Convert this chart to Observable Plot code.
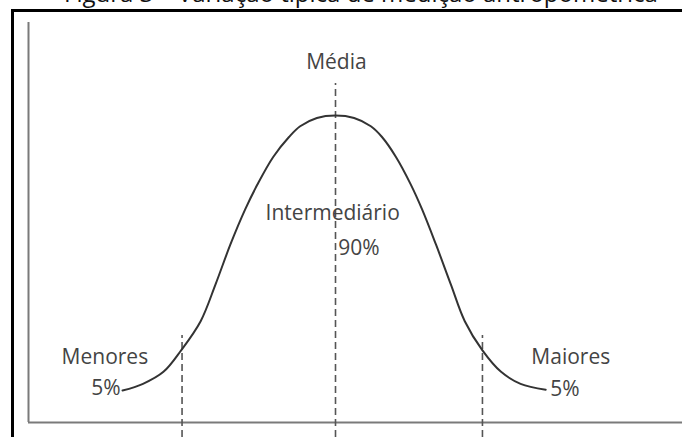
<!DOCTYPE html>
<html>
<head>
<meta charset="utf-8">
<script src="https://cdn.jsdelivr.net/npm/d3@7"></script>
<script src="https://cdn.jsdelivr.net/npm/@observablehq/plot@0.6"></script>
<style>
  html, body { margin: 0; padding: 0; background: #fff; }
  #wrap { position: relative; width: 682px; height: 437px; overflow: hidden; background: #fff; }
  #title { position: absolute; left: 0; top: -21px; width: 682px; text-align: center; padding-left: 40px; box-sizing: border-box;
           font-family: "Open Sans", sans-serif; font-size: 24px; color: #111; white-space: nowrap; line-height: 1.2; }
  #frame { position: absolute; left: 11px; top: 9px; width: 800px; height: 600px; border-left: 3px solid #000; border-top: 3px solid #000; box-sizing: border-box; pointer-events: none; }
  #chart { position: absolute; left: 0; top: 0; }
</style>
</head>
<body>
<div id="wrap">
  <div id="chart"></div>
  <div id="title">Figura 3 – Variação típica de medição antropométrica</div>
  <div id="frame"></div>
</div>
<script>
// Curve: x in standard-deviation units, y as relative frequency (peak = 100)
const curveX = [-2.29, -2.07, -1.85, -1.66, -1.45, -1.29, -1.13, -0.97, -0.84, -0.67, -0.50, -0.38, -0.20, 0,
                0.20, 0.38, 0.50, 0.65, 0.81, 0.93, 1.08, 1.24, 1.39, 1.58, 1.78, 1.99, 2.26];
const curveY = [10.4, 12.6, 16.5, 23.5, 33.0, 45.0, 58.0, 69.5, 77.5, 86.5, 93.0, 96.5, 99.2, 100,
                99.2, 96.5, 93.0, 86.5, 77.5, 69.5, 58.0, 45.0, 33.0, 23.5, 16.5, 12.6, 10.7];

// Dashed dividers: lower 5%, mean, upper 5%
const dividerX = [-1.65, 0, 1.58];
const dividerTop = [28.3, 110.4, 28.3];

// Labels
const labelText = ["Média", "Intermediário", "90%", "Menores", "5%", "Maiores", "5%"];
const labelX = [0.01, -0.03, 0.03, -2.48, -2.31, 2.53, 2.31];
const labelY = [117.3, 68.1, 56.7, 21.2, 11.1, 21.2, 10.7];
const labelAnchor = ["middle", "middle", "start", "middle", "end", "middle", "start"];

const xDomain = [-3.301, 3.731];
const yDomain = [0, 130.3];

const curve = curveX.map((x, i) => ({x, y: curveY[i]}));
const dividers = dividerX.map((x, i) => ({x, top: dividerTop[i], bottom: -4.9}));
const labels = labelText.map((t, i) => ({t, x: labelX[i], y: labelY[i], a: labelAnchor[i]}));

const font = "'Open Sans', sans-serif";
const textOpts = (anchor) => ({
  x: "x", y: "y", text: "t", textAnchor: anchor, fontSize: 21, fontFamily: font, fill: "#444"
});

const plot = Plot.plot({
  width: 682,
  height: 437,
  marginLeft: 28,
  marginRight: 0,
  marginTop: 22,
  marginBottom: 15,
  x: {domain: xDomain, axis: null},
  y: {domain: yDomain, axis: null},
  style: {background: "transparent", overflow: "visible"},
  marks: [
    Plot.ruleX([xDomain[0]], {stroke: "#7a7a7a", strokeWidth: 2}),
    Plot.ruleY([0], {stroke: "#7a7a7a", strokeWidth: 2}),
    Plot.ruleX(dividers, {x: "x", y1: "bottom", y2: "top", stroke: "#555", strokeWidth: 1.6, strokeDasharray: "7,4"}),
    Plot.line(curve, {x: "x", y: "y", curve: "catmull-rom", stroke: "#333", strokeWidth: 2}),
    ...["middle", "start", "end"].map(a =>
      Plot.text(labels.filter(d => d.a === a), textOpts(a))
    )
  ]
});
document.getElementById("chart").appendChild(plot);
</script>
</body>
</html>
